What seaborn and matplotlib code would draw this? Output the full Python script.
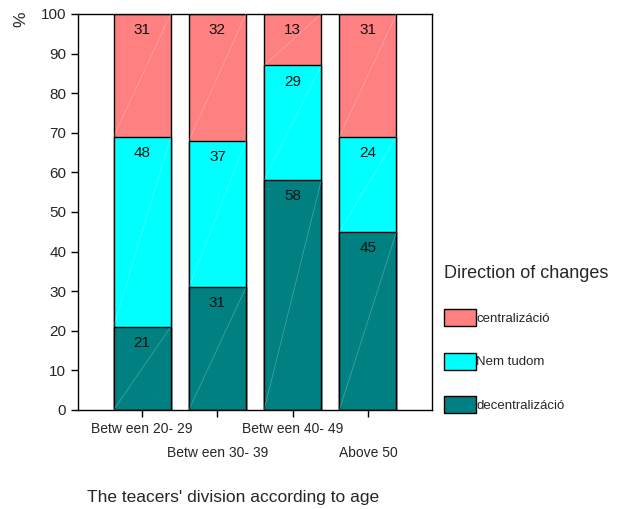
import numpy as np
import matplotlib.pyplot as plt
import seaborn as sns
from matplotlib.patches import Patch

# data
age_groups = ["Betw een 20- 29", "Betw een 30- 39", "Betw een 40- 49", "Above 50"]
decentral = [21, 31, 58, 45]
nem_tudom = [48, 37, 29, 24]
central = [31, 32, 13, 31]

series_names = ["centralizáció", "Nem tudom", "decentralizáció"]
colors = {"centralizáció": "#FF8080", "Nem tudom": "#00FFFF", "decentralizáció": "#008080"}

sns.set_style("white")
plt.rcParams["font.family"] = ["Liberation Sans", "DejaVu Sans"]

fig = plt.figure(figsize=(6.19, 5.09), dpi=100)
ax = fig.add_axes([0.126, 0.1945, 0.572, 0.778])

dec = np.array(decentral)
nem = np.array(nem_tudom)
cen = np.array(central)
segments = [
    ("decentralizáció", np.zeros(4), dec),
    ("Nem tudom", dec, nem),
    ("centralizáció", dec + nem, cen),
]

width = 0.76
# draw back to front: cumulative heights
for name, bottom, vals in reversed(segments):
    sns.barplot(x=age_groups, y=bottom + vals, color=colors[name], width=width,
                edgecolor="black", linewidth=1.0, saturation=1, ax=ax)

for name, bottom, vals in segments:
    for i in range(4):
        # faint diagonal highlight inside each segment
        ax.plot([i - width / 2, i + width / 2], [bottom[i], bottom[i] + vals[i]],
                color="white", lw=0.5, alpha=0.3, zorder=3)
        ax.annotate(str(vals[i]), (i, bottom[i] + vals[i]), xytext=(0, -6.5),
                    textcoords="offset points", ha="center", va="top",
                    fontsize=11, color="#111111", zorder=4)

ax.set_xlim(-0.853, 3.853)
ax.set_ylim(0, 100)
ax.set_yticks(range(0, 101, 10))
ax.tick_params(axis="both", direction="out", length=5, width=1, color="black",
               labelsize=11, bottom=True, left=True)
ax.tick_params(axis="x", labelsize=10)
for s in ax.spines.values():
    s.set_color("black")
    s.set_linewidth(1.0)
ax.set_xlabel("")
ax.set_ylabel("")
for t in ax.xaxis.get_major_ticks()[1::2]:
    t.set_pad(21)

fig.text(0.033, 0.962, "%", rotation=90, ha="center", va="center", fontsize=12.5)
fig.text(0.377, 0.023, "The teacers' division according to age", ha="center",
         va="center", fontsize=12.5)

handles = [Patch(facecolor=colors[n], edgecolor="black", linewidth=1.0) for n in series_names]
leg = fig.legend(handles, series_names, loc="upper left",
                 bbox_to_anchor=(0.700, 1 - 254 / 509), frameon=False,
                 title="Direction of changes", title_fontsize=13, fontsize=9.5,
                 handlelength=2.4, handleheight=1.6, handletextpad=0.05,
                 labelspacing=2.0, borderpad=0.3)
leg._legend_box.align = "left"
leg._legend_box.sep = 20

fig.savefig("out.png", dpi=100)
